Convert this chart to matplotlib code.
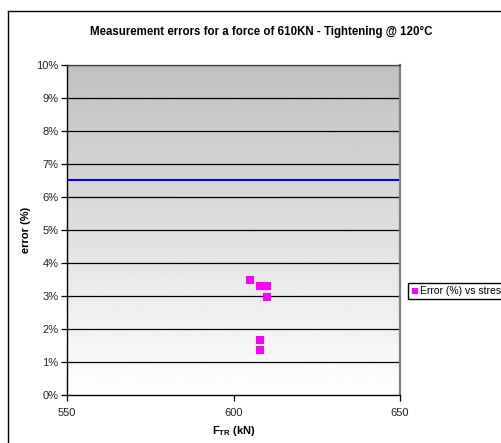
import numpy as np
import matplotlib
matplotlib.use("Agg")
import matplotlib.pyplot as plt
from matplotlib.lines import Line2D
from matplotlib.ticker import FuncFormatter

plt.rcParams['font.family'] = ['Liberation Sans', 'DejaVu Sans']

# data
force_kn = [605, 608, 610, 610, 608, 608]
error_pct = [3.5, 3.3, 3.3, 2.98, 1.67, 1.35]
limit_pct = 6.5
x_ticks = [550, 600, 650]
y_ticks = list(range(0, 11))

W, H = 502, 443
fig = plt.figure(figsize=(W / 100, H / 100), dpi=100)
fig.patch.set_facecolor('white')

# outer chart frame (runs off the right/bottom edges)
fig.add_artist(Line2D([8.5 / W, 8.5 / W], [0, 1 - 10.5 / H], transform=fig.transFigure,
                      color='black', linewidth=1.0))
fig.add_artist(Line2D([8.5 / W, 1.0], [1 - 10.5 / H, 1 - 10.5 / H], transform=fig.transFigure,
                      color='black', linewidth=1.0))

ax = fig.add_axes([67 / W, 1 - 395 / H, (400 - 67) / W, (395 - 65) / H])

# grey-to-white gradient background
grad = np.linspace(0, 1, 256).reshape(-1, 1)
ax.imshow(grad, extent=[550, 650, 0, 10], aspect='auto', cmap='gray',
          vmin=-3.0, vmax=1.0, origin='upper', zorder=0,
          interpolation='bicubic')

ax.set_xlim(550, 650)
ax.set_ylim(0, 10)

for v in y_ticks[1:]:
    ax.axhline(v, color='black', linewidth=0.9, zorder=1)

ax.axhline(limit_pct, color='#0000ff', linewidth=1.5, zorder=2)

ax.scatter(force_kn, error_pct, marker='s', s=38, color='#ff00ff',
           linewidths=0, zorder=3, label='Error (%) vs stress')

ax.set_xticks(x_ticks)
ax.set_yticks(y_ticks)
ax.yaxis.set_major_formatter(FuncFormatter(lambda v, p: f'{int(v)}%'))
ax.tick_params(direction='out', length=4, width=0.9, labelsize=8,
               colors='black', labelcolor='#222222', pad=2)
ax.tick_params(axis='x', pad=5)

for s in ['left', 'bottom']:
    ax.spines[s].set_color('black')
    ax.spines[s].set_linewidth(1.0)
ax.spines['top'].set_color('#404040')
ax.spines['top'].set_linewidth(0.9)
ax.spines['right'].set_color('#808080')
ax.spines['right'].set_linewidth(1.6)

ax.set_xlabel(r'F$_{\mathregular{TR}}$ (kN)', fontsize=8, fontweight='bold', labelpad=5)
ax.set_ylabel('error (%)', fontsize=8, fontweight='bold', labelpad=4)

fig.text(261 / W, 1 - 32 / H, 'Measurement errors for a force of 610KN - Tightening @ 120°C',
         ha='center', va='center', fontsize=8.3, fontweight='bold')

ax.legend(loc='center left', bbox_to_anchor=(408 / W, 1 - 291 / H),
          bbox_transform=fig.transFigure, fontsize=7.5, frameon=True,
          fancybox=False, edgecolor='black', framealpha=1,
          handletextpad=0.1, handlelength=0.8, borderpad=0.3,
          markerscale=0.6, borderaxespad=0)

fig.savefig('out.png', dpi=100)
